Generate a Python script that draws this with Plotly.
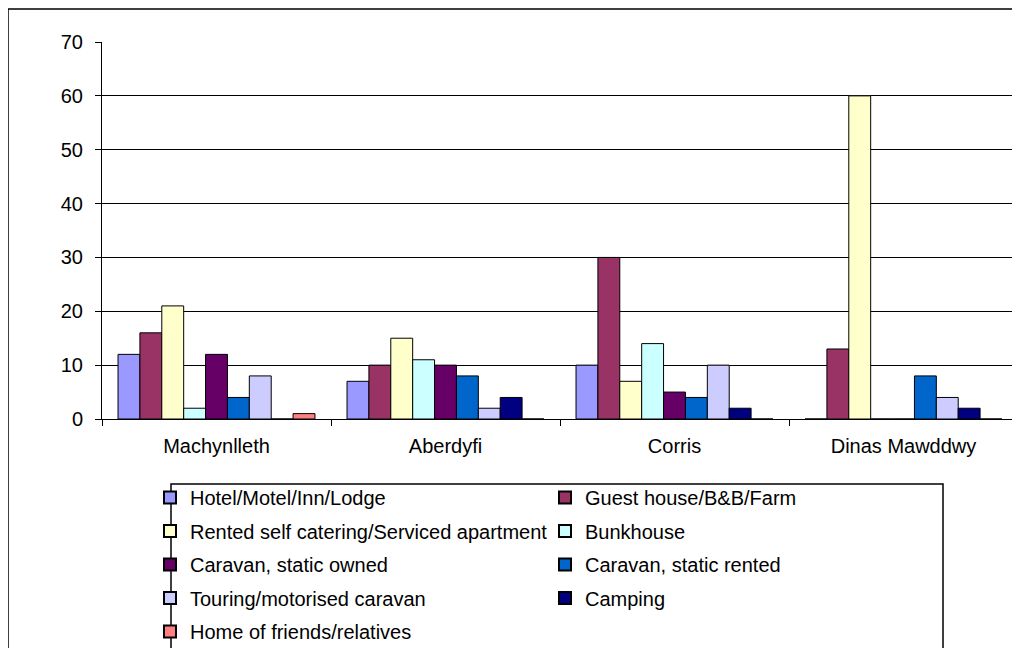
import plotly.graph_objects as go

categories = ["Machynlleth", "Aberdyfi", "Corris", "Dinas Mawddwy"]
series_names = [
    "Hotel/Motel/Inn/Lodge",
    "Guest house/B&B/Farm",
    "Rented self catering/Serviced apartment",
    "Bunkhouse",
    "Caravan, static owned",
    "Caravan, static rented",
    "Touring/motorised caravan",
    "Camping",
    "Home of friends/relatives",
]
hotel = [12, 7, 10, 0]
guest_house = [16, 10, 30, 13]
rented_self_catering = [21, 15, 7, 60]
bunkhouse = [2, 11, 14, 0]
caravan_owned = [12, 10, 5, 0]
caravan_rented = [4, 8, 4, 8]
touring = [8, 2, 10, 4]
camping = [0, 4, 2, 2]
home_friends = [1, 0, 0, 0]
series_values = [hotel, guest_house, rented_self_catering, bunkhouse,
                 caravan_owned, caravan_rented, touring, camping, home_friends]
colors = ["#9999FF", "#993366", "#FFFFCC", "#CCFFFF", "#660066",
          "#0066CC", "#CCCCFF", "#000080", "#FF8080"]
y_ticks = [0, 10, 20, 30, 40, 50, 60, 70]

FONT = "Arial, Liberation Sans, sans-serif"
FS = 20

fig = go.Figure()
for i, (name, vals, col) in enumerate(zip(series_names, series_values, colors)):
    fig.add_trace(go.Bar(
        x=categories, y=vals, name=name,
        marker=dict(color=col, line=dict(color="black", width=1)),
        legend="legend" if i % 2 == 0 else "legend2",
        legendgroup=f"g{i}",
    ))

# page is drawn with an 8px body margin; layout coords = page coords - 8
W, H = 1020, 648
ml, mr, mt, mb = 94, 10, 34, 237
pw = W - ml - mr
ph = H - mt - mb

def px(x):
    return (x - ml) / pw

def py(y):
    return (H - mb - y) / ph

leg_common = dict(
    orientation="v", yanchor="top", xanchor="left",
    bgcolor="rgba(0,0,0,0)", borderwidth=0,
    font=dict(family=FONT, size=FS, color="black"),
    tracegroupgap=4.5, itemsizing="constant", maxheight=400,
)

fig.update_layout(
    width=W, height=H,
    margin=dict(l=ml, r=mr, t=mt, b=mb, autoexpand=False),
    paper_bgcolor="white", plot_bgcolor="white",
    font=dict(family=FONT, size=FS, color="black"),
    barmode="group", bargap=0.14, bargroupgap=0,
    showlegend=True,
    legend=dict(x=px(142), y=py(470), **leg_common),
    legend2=dict(x=px(537), y=py(470), **leg_common),
    xaxis=dict(
        type="category", showline=True, linecolor="black", linewidth=1,
        ticks="outside", tickson="boundaries", ticklen=6, tickcolor="black",
        showgrid=False, ticklabelstandoff=9,
        tickfont=dict(family=FONT, size=FS, color="black"),
    ),
    yaxis=dict(
        range=[0, 70], tickvals=y_ticks, showline=True, linecolor="black",
        linewidth=1, ticks="outside", ticklen=6, tickcolor="black",
        showgrid=True, gridcolor="black", gridwidth=1, zeroline=False,
        ticklabelstandoff=8,
        tickfont=dict(family=FONT, size=FS, color="black"),
    ),
    shapes=[
        dict(type="rect", xref="paper", yref="paper",
             x0=px(0), x1=px(1010), y0=py(660), y1=py(1),
             line=dict(color="black", width=1.5), layer="above"),
        dict(type="rect", xref="paper", yref="paper",
             x0=px(163), x1=px(935), y0=py(660), y1=py(476),
             line=dict(color="black", width=1.5), layer="above"),
    ],
)

fig.write_html("out.html")
